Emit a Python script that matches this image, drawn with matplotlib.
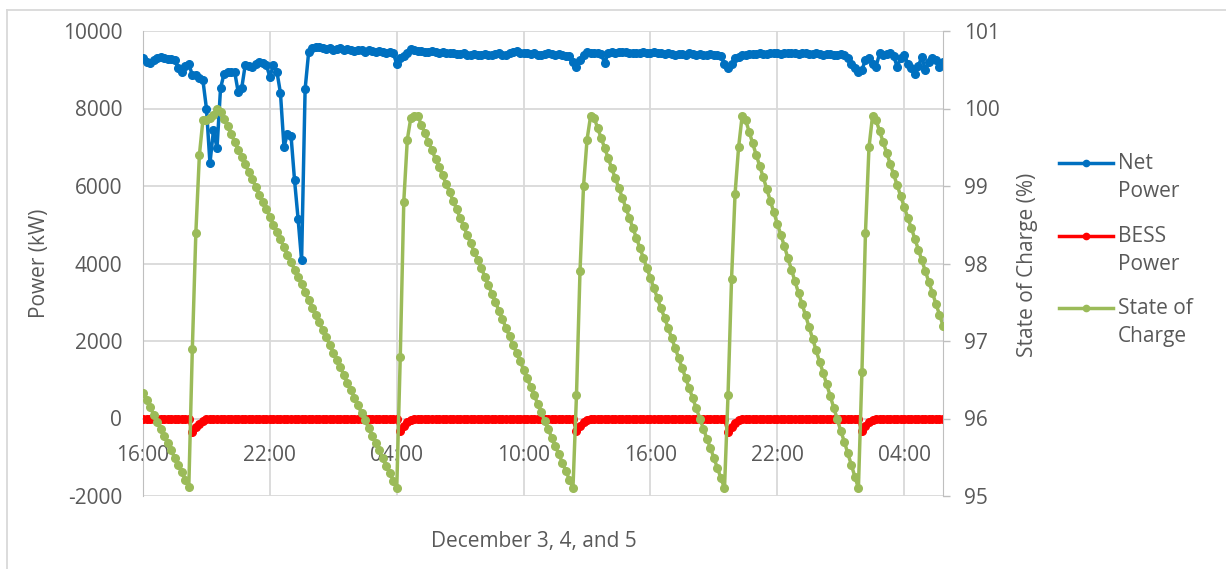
import numpy as np
import pandas as pd
import matplotlib
matplotlib.use('Agg')
import matplotlib.pyplot as plt
import matplotlib.dates as mdates
from matplotlib.lines import Line2D

# --- data (10 minute samples from Dec 3 16:00) ---
start_time = '2015-12-03 16:00'
sample_freq = '10min'

net_power = [
    9300, 9200, 9180, 9250, 9300, 9330, 9300, 9280, 9290, 9250,
    9040, 8950, 9100, 9150, 8860, 8860, 8800, 8730, 8000, 6590,
    7440, 6970, 8520, 8900, 8950, 8950, 8950, 8430, 8520, 9120,
    9100, 9080, 9150, 9200, 9180, 9120, 8820, 9120, 8950, 8400,
    7010, 7350, 7300, 6150, 5160, 4080, 8500, 9450, 9550, 9600,
    9580, 9560, 9540, 9570, 9520, 9540, 9550, 9500, 9530, 9520,
    9480, 9500, 9510, 9470, 9500, 9480, 9450, 9490, 9470, 9420,
    9460, 9430, 9150, 9300, 9350, 9420, 9540, 9500, 9480, 9490,
    9470, 9460, 9480, 9450, 9440, 9460, 9430, 9420, 9440, 9410,
    9400, 9420, 9390, 9380, 9400, 9390, 9370, 9400, 9380, 9390,
    9400, 9420, 9380, 9390, 9420, 9450, 9480, 9440, 9420, 9430,
    9400, 9420, 9390, 9370, 9400, 9430, 9410, 9380, 9400, 9390,
    9360, 9350, 9200, 9080, 9250, 9380, 9460, 9440, 9420, 9430,
    9400, 9180, 9420, 9450, 9440, 9460, 9470, 9450, 9440, 9430,
    9420, 9440, 9450, 9420, 9440, 9460, 9430, 9420, 9400, 9420,
    9410, 9390, 9410, 9400, 9380, 9420, 9410, 9390, 9400, 9380,
    9390, 9400, 9380, 9370, 9350, 9150, 9040, 9150, 9300, 9320,
    9380, 9390, 9400, 9410, 9400, 9420, 9410, 9400, 9420, 9430,
    9420, 9410, 9420, 9440, 9430, 9420, 9410, 9430, 9420, 9400,
    9410, 9420, 9400, 9390, 9410, 9400, 9380, 9390, 9400, 9380,
    9300, 9150, 9050, 8950, 9000, 9250, 9300, 9150, 9080, 9420,
    9380, 9400, 9420, 9350, 9080, 9300, 9390, 9160, 9050, 8900,
    9100, 9330, 8990, 9200, 9300, 9250, 9080, 9200,
]

bess_power = ([0] * 14 + [-350, -220, -130, -60, -20] +
              [0] * 54 + [-320, -200, -100, -30] +
              [0] * 46 + [-320, -200, -100, -30] +
              [0] * 39 + [-350, -220, -110, -30] +
              [0] * 34 + [-330, -200, -100, -30] +
              [0] * 20)

soc = [
    96.33, 96.24, 96.15, 96.05, 95.96, 95.87, 95.77, 95.68, 95.59, 95.49,
    95.40, 95.31, 95.21, 95.12, 96.90, 98.40, 99.40, 99.85, 99.85, 99.88,
    99.92, 100.0, 99.96, 99.86, 99.77, 99.67, 99.57, 99.47, 99.38, 99.28,
    99.18, 99.09, 98.99, 98.89, 98.79, 98.70, 98.60, 98.50, 98.41, 98.31,
    98.21, 98.11, 98.02, 97.92, 97.82, 97.73, 97.63, 97.53, 97.43, 97.34,
    97.24, 97.14, 97.05, 96.95, 96.85, 96.75, 96.66, 96.56, 96.46, 96.37,
    96.27, 96.17, 96.07, 95.98, 95.88, 95.78, 95.69, 95.59, 95.49, 95.39,
    95.30, 95.20, 95.10, 96.80, 98.80, 99.60, 99.88, 99.90, 99.90, 99.79,
    99.68, 99.57, 99.46, 99.35, 99.25, 99.14, 99.03, 98.92, 98.81, 98.70,
    98.59, 98.48, 98.37, 98.26, 98.15, 98.05, 97.94, 97.83, 97.72, 97.61,
    97.50, 97.39, 97.28, 97.17, 97.06, 96.95, 96.85, 96.74, 96.63, 96.52,
    96.41, 96.30, 96.19, 96.08, 95.97, 95.86, 95.75, 95.64, 95.54, 95.43,
    95.32, 95.21, 95.10, 96.30, 97.90, 99.00, 99.60, 99.90, 99.88, 99.75,
    99.62, 99.49, 99.36, 99.23, 99.10, 98.98, 98.85, 98.72, 98.59, 98.46,
    98.33, 98.20, 98.07, 97.94, 97.81, 97.68, 97.55, 97.42, 97.30, 97.17,
    97.04, 96.91, 96.78, 96.65, 96.52, 96.39, 96.26, 96.13, 96.00, 95.87,
    95.74, 95.62, 95.49, 95.36, 95.23, 95.10, 96.30, 97.80, 98.90, 99.50,
    99.90, 99.85, 99.70, 99.55, 99.40, 99.26, 99.11, 98.96, 98.81, 98.66,
    98.51, 98.37, 98.22, 98.07, 97.92, 97.77, 97.62, 97.48, 97.33, 97.18,
    97.03, 96.88, 96.73, 96.59, 96.44, 96.29, 96.14, 95.99, 95.84, 95.70,
    95.55, 95.40, 95.25, 95.10, 96.60, 98.40, 99.50, 99.90, 99.85, 99.71,
    99.57, 99.43, 99.29, 99.15, 99.01, 98.87, 98.73, 98.59, 98.46, 98.32,
    98.18, 98.04, 97.90, 97.76, 97.62, 97.48, 97.34, 97.20,
]

series_names = ['Net\nPower', 'BESS\nPower', 'State of\nCharge']
series_colors = ['#0070C0', '#FF0000', '#9BBB59']

times = pd.date_range(start_time, periods=len(net_power), freq=sample_freq)

# --- style ---
plt.rcParams['font.family'] = ['Open Sans', 'DejaVu Sans']
plt.rcParams['axes.unicode_minus'] = False
text_color = '#595959'
grid_color = '#D9D9D9'
axis_color = '#BFBFBF'
fsize = 15
lw, ms = 2.5, 5.5

W, H = 1226, 569
fig = plt.figure(figsize=(W / 100, H / 100), dpi=100)
ax = fig.add_axes([143 / W, 1 - 496 / H, 800 / W, 465 / H])

ax.plot(times, net_power, color=series_colors[0], lw=lw, marker='o', ms=ms, zorder=4)
ax.plot(times, bess_power, color=series_colors[1], lw=lw, marker='o', ms=ms, zorder=3)

ax.set_xlim(times[0], times[-1])
ax.set_ylim(-2000, 10000)
ax.set_yticks(range(-2000, 10001, 2000))
ax.xaxis.set_major_locator(mdates.HourLocator(byhour=[4, 10, 16, 22]))
ax.xaxis.set_major_formatter(mdates.DateFormatter('%H:%M'))
ax.grid(True, color=grid_color, lw=1.3)
ax.set_axisbelow(True)

for s in ['top', 'right']:
    ax.spines[s].set_visible(False)
ax.spines['bottom'].set_position(('data', 0))
ax.spines['bottom'].set_color(grid_color)
ax.spines['bottom'].set_linewidth(1.3)
ax.spines['bottom'].set_zorder(1)
ax.spines['left'].set_color(axis_color)
ax.tick_params(axis='x', length=0, pad=19, labelsize=fsize, labelcolor=text_color)
ax.tick_params(axis='y', length=0, pad=15, labelsize=fsize, labelcolor=text_color)

# secondary axis for state of charge
ax2 = ax.twinx()
ax2.plot(times, soc, color=series_colors[2], lw=lw, marker='o', ms=ms, zorder=4)
ax2.set_ylim(95, 101)
ax2.set_yticks(range(95, 102))
for s in ['top', 'left', 'bottom']:
    ax2.spines[s].set_visible(False)
ax2.spines['right'].set_color(axis_color)
ax2.tick_params(axis='y', direction='out', length=5, width=1, color=axis_color,
                pad=10, labelsize=fsize, labelcolor=text_color)

# axis titles
fig.text(40 / W, 1 - 263 / H, 'Power (kW)', rotation=90, ha='center', va='center',
         fontsize=fsize, color=text_color)
fig.text(1027 / W, 1 - 265 / H, 'State of Charge (%)', rotation=90, ha='center',
         va='center', fontsize=fsize, color=text_color)
fig.text(534 / W, 1 - 541 / H, 'December 3, 4, and 5', ha='center', va='center',
         fontsize=fsize, color=text_color)

# legend, drawn by hand so the line sits beside the first text row
legend_rows = [163, 236, 308]
for name, col, yp in zip(series_names, series_colors, legend_rows):
    yf = 1 - yp / H
    fig.add_artist(Line2D([1059 / W, 1113 / W], [yf, yf], color=col, lw=lw,
                          transform=fig.transFigure))
    fig.add_artist(Line2D([1086 / W], [yf], color=col, marker='o', ms=4.5,
                          transform=fig.transFigure))
    fig.text(1118 / W, 1 - (yp + 14.5) / H, name, ha='left', va='center',
             fontsize=fsize, color=text_color, linespacing=1.4)

# chart area border
fig.add_artist(Line2D([7 / W, 7 / W], [0, 1 - 10 / H], color=grid_color, lw=1.3,
                      transform=fig.transFigure))
fig.add_artist(Line2D([7 / W, 1], [1 - 10 / H, 1 - 10 / H], color=grid_color, lw=1.3,
                      transform=fig.transFigure))

fig.savefig('out.png', dpi=100)
